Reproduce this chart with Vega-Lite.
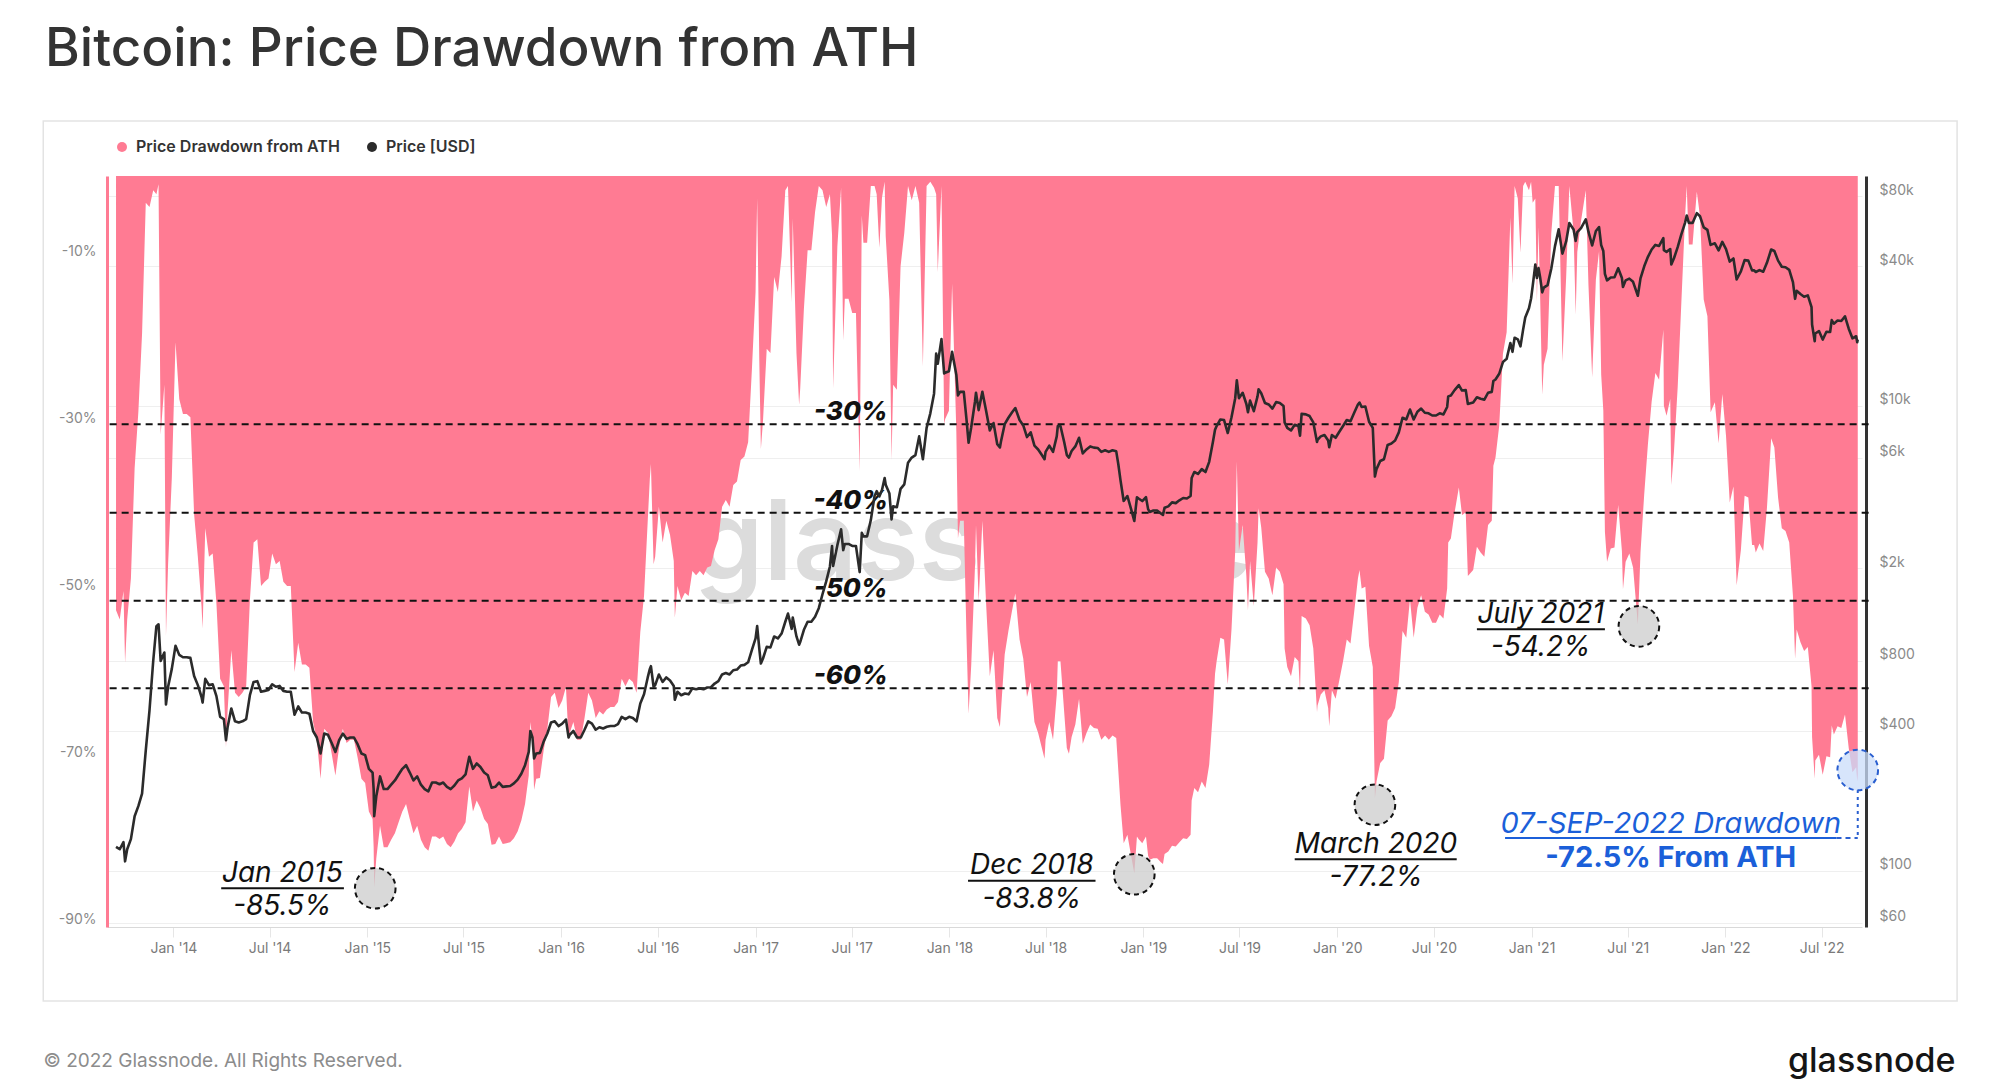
{
  "$schema": "https://vega.github.io/schema/vega-lite/v6.json",
  "width": 1755,
  "height": 751,
  "autosize": {"type": "none"},
  "padding": {"left": 107, "top": 176, "right": 138, "bottom": 165},
  "background": "white",
  "config": {
    "view": {"stroke": null},
    "font": "Inter",
    "axis": {"labelFont": "Inter", "titleFont": "Inter"},
    "text": {"font": "Inter"}
  },
  "title": {
    "text": "Bitcoin: Price Drawdown from ATH",
    "anchor": "start",
    "frame": "group",
    "orient": "top",
    "font": "Inter",
    "fontSize": 53,
    "fontWeight": 500,
    "color": "#333333",
    "baseline": "alphabetic",
    "dx": -62,
    "dy": 52,
    "offset": 53
  },
  "datasets": {
    "btc": [
      {"t":"2013-09-15","v":-52.3,"p":127},{"t":"2013-09-22","v":-53.4,"p":124},{"t":"2013-09-29","v":-50.0,"p":133},{"t":"2013-10-02","v":-58.6,"p":110},
      {"t":"2013-10-06","v":-53.4,"p":124},{"t":"2013-10-13","v":-48.5,"p":137},{"t":"2013-10-20","v":-35.3,"p":172},{"t":"2013-10-27","v":-28.6,"p":190},
      {"t":"2013-11-03","v":-19.2,"p":215},{"t":"2013-11-10","v":-3.5,"p":330},{"t":"2013-11-17","v":-4.0,"p":490},{"t":"2013-11-24","v":-2.0,"p":800},
      {"t":"2013-11-30","v":-2.5,"p":1130},{"t":"2013-12-04","v":-1.3,"p":1150},{"t":"2013-12-08","v":-31.3,"p":800},{"t":"2013-12-15","v":-25.3,"p":870},
      {"t":"2013-12-18","v":-55.4,"p":520},{"t":"2013-12-22","v":-46.8,"p":620},{"t":"2013-12-29","v":-36.5,"p":740},
      {"t":"2014-01-05","v":-20.2,"p":930},{"t":"2014-01-12","v":-27.0,"p":850},{"t":"2014-01-19","v":-28.8,"p":830},{"t":"2014-01-26","v":-28.8,"p":830},
      {"t":"2014-02-02","v":-29.2,"p":825},{"t":"2014-02-09","v":-40.8,"p":690},{"t":"2014-02-16","v":-45.9,"p":630},{"t":"2014-02-23","v":-51.9,"p":560},
      {"t":"2014-02-25","v":-54.5,"p":530},{"t":"2014-03-02","v":-42.5,"p":670},{"t":"2014-03-09","v":-45.9,"p":630},{"t":"2014-03-16","v":-45.5,"p":635},
      {"t":"2014-03-23","v":-51.5,"p":565},{"t":"2014-03-30","v":-60.5,"p":460},{"t":"2014-04-06","v":-61.4,"p":450},{"t":"2014-04-10","v":-68.7,"p":365},
      {"t":"2014-04-13","v":-64.4,"p":415},{"t":"2014-04-20","v":-57.1,"p":500},{"t":"2014-04-27","v":-62.2,"p":440},{"t":"2014-05-04","v":-62.7,"p":435},
      {"t":"2014-05-11","v":-62.2,"p":440},{"t":"2014-05-18","v":-61.4,"p":450},{"t":"2014-05-25","v":-51.1,"p":570},{"t":"2014-06-01","v":-44.2,"p":650},
      {"t":"2014-06-08","v":-43.8,"p":655},{"t":"2014-06-15","v":-49.4,"p":590},{"t":"2014-06-22","v":-48.9,"p":595},{"t":"2014-06-29","v":-48.5,"p":600},
      {"t":"2014-07-06","v":-45.5,"p":635},{"t":"2014-07-13","v":-46.8,"p":620},{"t":"2014-07-20","v":-46.4,"p":625},{"t":"2014-07-27","v":-48.9,"p":595},
      {"t":"2014-08-03","v":-49.4,"p":590},{"t":"2014-08-10","v":-49.4,"p":590},{"t":"2014-08-17","v":-59.7,"p":470},{"t":"2014-08-24","v":-56.2,"p":510},
      {"t":"2014-08-31","v":-58.8,"p":480},{"t":"2014-09-07","v":-58.8,"p":480},{"t":"2014-09-14","v":-59.2,"p":475},{"t":"2014-09-21","v":-65.7,"p":400},
      {"t":"2014-09-28","v":-67.8,"p":375},{"t":"2014-10-05","v":-72.5,"p":320},{"t":"2014-10-12","v":-66.5,"p":390},{"t":"2014-10-19","v":-67.0,"p":385},
      {"t":"2014-10-26","v":-69.5,"p":355},{"t":"2014-11-02","v":-72.1,"p":325},{"t":"2014-11-09","v":-68.7,"p":365},{"t":"2014-11-16","v":-66.5,"p":390},
      {"t":"2014-11-23","v":-68.2,"p":370},{"t":"2014-11-30","v":-67.8,"p":375},{"t":"2014-12-07","v":-67.8,"p":375},{"t":"2014-12-14","v":-70.0,"p":350},
      {"t":"2014-12-21","v":-72.5,"p":320},{"t":"2014-12-28","v":-73.0,"p":315},
      {"t":"2015-01-04","v":-76.4,"p":275},{"t":"2015-01-11","v":-77.3,"p":265},{"t":"2015-01-13","v":-80.7,"p":225},{"t":"2015-01-14","v":-85.5,"p":172},
      {"t":"2015-01-18","v":-82.0,"p":210},{"t":"2015-01-25","v":-78.1,"p":255},{"t":"2015-02-01","v":-80.7,"p":225},{"t":"2015-02-08","v":-80.7,"p":225},
      {"t":"2015-02-15","v":-79.8,"p":235},{"t":"2015-02-22","v":-79.0,"p":245},{"t":"2015-03-01","v":-77.7,"p":260},{"t":"2015-03-08","v":-76.4,"p":275},
      {"t":"2015-03-15","v":-75.5,"p":285},{"t":"2015-03-22","v":-77.3,"p":265},{"t":"2015-03-29","v":-79.0,"p":245},{"t":"2015-04-05","v":-78.1,"p":255},
      {"t":"2015-04-12","v":-79.8,"p":235},{"t":"2015-04-19","v":-80.7,"p":225},{"t":"2015-04-26","v":-81.1,"p":220},{"t":"2015-05-03","v":-79.4,"p":240},
      {"t":"2015-05-10","v":-79.4,"p":240},{"t":"2015-05-17","v":-79.7,"p":236},{"t":"2015-05-24","v":-79.4,"p":240},{"t":"2015-05-31","v":-80.3,"p":230},
      {"t":"2015-06-07","v":-80.7,"p":225},{"t":"2015-06-14","v":-80.0,"p":233},{"t":"2015-06-21","v":-79.0,"p":245},{"t":"2015-06-28","v":-78.5,"p":250},
      {"t":"2015-07-05","v":-77.7,"p":260},{"t":"2015-07-12","v":-73.4,"p":310},{"t":"2015-07-19","v":-76.4,"p":275},{"t":"2015-07-26","v":-75.1,"p":290},
      {"t":"2015-08-02","v":-76.0,"p":280},{"t":"2015-08-09","v":-77.3,"p":265},{"t":"2015-08-16","v":-77.9,"p":258},{"t":"2015-08-23","v":-80.4,"p":228},
      {"t":"2015-08-30","v":-80.3,"p":230},{"t":"2015-09-06","v":-79.4,"p":240},{"t":"2015-09-13","v":-80.3,"p":230},{"t":"2015-09-20","v":-80.2,"p":231},
      {"t":"2015-09-27","v":-80.1,"p":232},{"t":"2015-10-04","v":-79.6,"p":238},{"t":"2015-10-11","v":-78.8,"p":247},{"t":"2015-10-18","v":-77.5,"p":262},
      {"t":"2015-10-25","v":-75.5,"p":285},{"t":"2015-11-01","v":-72.1,"p":325},{"t":"2015-11-04","v":-65.7,"p":400},{"t":"2015-11-08","v":-67.8,"p":375},
      {"t":"2015-11-11","v":-73.8,"p":305},{"t":"2015-11-15","v":-72.5,"p":320},{"t":"2015-11-22","v":-72.4,"p":322},{"t":"2015-11-29","v":-69.1,"p":360},
      {"t":"2015-12-06","v":-66.5,"p":390},{"t":"2015-12-13","v":-62.7,"p":435},{"t":"2015-12-20","v":-62.2,"p":440},{"t":"2015-12-27","v":-64.0,"p":420},
      {"t":"2016-01-03","v":-63.1,"p":430},{"t":"2016-01-10","v":-61.5,"p":448},{"t":"2016-01-15","v":-67.8,"p":375},{"t":"2016-01-17","v":-67.0,"p":385},
      {"t":"2016-01-24","v":-65.7,"p":400},{"t":"2016-01-31","v":-67.8,"p":375},{"t":"2016-02-07","v":-67.8,"p":375},{"t":"2016-02-14","v":-65.2,"p":405},
      {"t":"2016-02-21","v":-62.2,"p":440},{"t":"2016-02-28","v":-63.1,"p":430},{"t":"2016-03-06","v":-65.2,"p":405},{"t":"2016-03-13","v":-64.4,"p":415},
      {"t":"2016-03-20","v":-64.8,"p":410},{"t":"2016-03-27","v":-64.2,"p":417},{"t":"2016-04-03","v":-63.9,"p":420},{"t":"2016-04-10","v":-63.9,"p":420},
      {"t":"2016-04-17","v":-63.3,"p":428},{"t":"2016-04-24","v":-60.5,"p":460},{"t":"2016-05-01","v":-61.4,"p":450},{"t":"2016-05-08","v":-60.5,"p":460},
      {"t":"2016-05-15","v":-60.9,"p":455},{"t":"2016-05-22","v":-62.2,"p":440},{"t":"2016-05-29","v":-54.9,"p":525},{"t":"2016-06-05","v":-50.6,"p":575},
      {"t":"2016-06-12","v":-41.6,"p":680},{"t":"2016-06-16","v":-36.5,"p":740},{"t":"2016-06-18","v":-34.8,"p":760},{"t":"2016-06-23","v":-46.8,"p":620},
      {"t":"2016-06-26","v":-45.9,"p":630},{"t":"2016-07-03","v":-39.9,"p":700},{"t":"2016-07-10","v":-44.2,"p":650},{"t":"2016-07-17","v":-41.6,"p":680},
      {"t":"2016-07-24","v":-43.3,"p":660},{"t":"2016-07-31","v":-46.4,"p":625},{"t":"2016-08-02","v":-53.2,"p":545},{"t":"2016-08-07","v":-49.4,"p":590},
      {"t":"2016-08-14","v":-51.1,"p":570},{"t":"2016-08-21","v":-50.2,"p":580},{"t":"2016-08-28","v":-50.6,"p":575},{"t":"2016-09-04","v":-47.6,"p":610},
      {"t":"2016-09-11","v":-48.1,"p":605},{"t":"2016-09-18","v":-47.6,"p":610},{"t":"2016-09-25","v":-48.1,"p":605},{"t":"2016-10-02","v":-47.2,"p":615},
      {"t":"2016-10-09","v":-47.0,"p":617},{"t":"2016-10-16","v":-45.1,"p":640},{"t":"2016-10-23","v":-43.8,"p":655},{"t":"2016-10-30","v":-39.9,"p":700},
      {"t":"2016-11-06","v":-39.1,"p":710},{"t":"2016-11-13","v":-39.9,"p":700},{"t":"2016-11-20","v":-37.3,"p":730},{"t":"2016-11-27","v":-36.9,"p":735},
      {"t":"2016-12-04","v":-34.3,"p":765},{"t":"2016-12-11","v":-33.9,"p":770},{"t":"2016-12-18","v":-32.2,"p":790},{"t":"2016-12-25","v":-23.6,"p":890},
      {"t":"2017-01-01","v":-14.2,"p":1000},{"t":"2017-01-04","v":-3.0,"p":1130},{"t":"2017-01-08","v":-22.3,"p":905},{"t":"2017-01-11","v":-33.0,"p":780},
      {"t":"2017-01-15","v":-29.6,"p":820},{"t":"2017-01-22","v":-21.0,"p":920},{"t":"2017-01-29","v":-21.5,"p":915},{"t":"2017-02-05","v":-12.4,"p":1020},
      {"t":"2017-02-12","v":-14.2,"p":1000},{"t":"2017-02-19","v":-9.9,"p":1050},{"t":"2017-02-26","v":-2.0,"p":1180},{"t":"2017-03-03","v":-1.5,"p":1280},
      {"t":"2017-03-10","v":-15.4,"p":1100},{"t":"2017-03-12","v":-5.4,"p":1230},{"t":"2017-03-19","v":-21.5,"p":1020},{"t":"2017-03-24","v":-27.7,"p":940},
      {"t":"2017-03-26","v":-25.8,"p":965},{"t":"2017-04-02","v":-16.2,"p":1090},{"t":"2017-04-09","v":-9.2,"p":1180},{"t":"2017-04-16","v":-9.2,"p":1180},
      {"t":"2017-04-23","v":-4.6,"p":1240},{"t":"2017-04-30","v":-1.5,"p":1350},{"t":"2017-05-07","v":-2.0,"p":1550},{"t":"2017-05-14","v":-4.0,"p":1760},
      {"t":"2017-05-21","v":-2.5,"p":2040},{"t":"2017-05-25","v":-7.4,"p":2500},{"t":"2017-05-27","v":-25.7,"p":2050},{"t":"2017-06-04","v":-8.7,"p":2520},
      {"t":"2017-06-11","v":-1.7,"p":2950},{"t":"2017-06-15","v":-20.0,"p":2400},{"t":"2017-06-18","v":-15.0,"p":2550},{"t":"2017-06-25","v":-15.0,"p":2550},
      {"t":"2017-07-02","v":-16.7,"p":2500},{"t":"2017-07-09","v":-16.7,"p":2500},{"t":"2017-07-16","v":-35.7,"p":1930},{"t":"2017-07-20","v":-5.0,"p":2850},
      {"t":"2017-07-23","v":-8.3,"p":2750},{"t":"2017-07-30","v":-8.3,"p":2750},{"t":"2017-08-06","v":-1.5,"p":3230},{"t":"2017-08-13","v":-1.5,"p":4100},
      {"t":"2017-08-17","v":-2.5,"p":4300},{"t":"2017-08-22","v":-8.9,"p":4080},{"t":"2017-08-27","v":-2.9,"p":4350},{"t":"2017-09-01","v":-1.0,"p":4900},
      {"t":"2017-09-03","v":-7.5,"p":4580},{"t":"2017-09-10","v":-15.2,"p":4200},{"t":"2017-09-14","v":-34.3,"p":3250},{"t":"2017-09-17","v":-25.3,"p":3700},
      {"t":"2017-09-24","v":-25.9,"p":3670},{"t":"2017-10-01","v":-11.1,"p":4400},{"t":"2017-10-08","v":-7.1,"p":4600},{"t":"2017-10-15","v":-1.5,"p":5700},
      {"t":"2017-10-22","v":-3.2,"p":6000},{"t":"2017-10-29","v":-1.5,"p":6150},{"t":"2017-11-05","v":-3.5,"p":7400},{"t":"2017-11-12","v":-23.1,"p":5900},
      {"t":"2017-11-19","v":-1.5,"p":8050},{"t":"2017-11-26","v":-1.0,"p":9300},{"t":"2017-12-03","v":-1.7,"p":11300},{"t":"2017-12-07","v":-2.5,"p":16800},
      {"t":"2017-12-10","v":-11.8,"p":15200},{"t":"2017-12-17","v":-1.5,"p":19400},{"t":"2017-12-22","v":-30.0,"p":13800},{"t":"2017-12-24","v":-29.4,"p":13900},
      {"t":"2017-12-31","v":-28.4,"p":14100},
      {"t":"2018-01-06","v":-13.2,"p":17100},{"t":"2018-01-14","v":-31.0,"p":13600},{"t":"2018-01-17","v":-43.7,"p":11100},{"t":"2018-01-21","v":-41.6,"p":11500},
      {"t":"2018-01-28","v":-41.6,"p":11500},{"t":"2018-02-02","v":-55.3,"p":8800},{"t":"2018-02-06","v":-64.7,"p":6950},{"t":"2018-02-11","v":-58.9,"p":8100},
      {"t":"2018-02-18","v":-47.2,"p":10400},{"t":"2018-02-20","v":-42.1,"p":11400},{"t":"2018-02-25","v":-51.3,"p":9600},{"t":"2018-03-04","v":-41.6,"p":11500},
      {"t":"2018-03-11","v":-51.5,"p":9550},{"t":"2018-03-18","v":-60.2,"p":7850},{"t":"2018-03-25","v":-57.1,"p":8450},{"t":"2018-04-01","v":-65.2,"p":6850},
      {"t":"2018-04-06","v":-66.3,"p":6630},{"t":"2018-04-08","v":-64.3,"p":7030},{"t":"2018-04-15","v":-57.6,"p":8350},{"t":"2018-04-22","v":-54.8,"p":8900},
      {"t":"2018-04-29","v":-52.3,"p":9400},{"t":"2018-05-05","v":-50.3,"p":9800},{"t":"2018-05-13","v":-55.8,"p":8700},{"t":"2018-05-20","v":-58.1,"p":8250},
      {"t":"2018-05-27","v":-62.7,"p":7350},{"t":"2018-06-03","v":-60.9,"p":7700},{"t":"2018-06-10","v":-65.7,"p":6750},{"t":"2018-06-17","v":-67.0,"p":6500},
      {"t":"2018-06-24","v":-68.8,"p":6150},{"t":"2018-06-29","v":-70.1,"p":5900},{"t":"2018-07-01","v":-67.8,"p":6350},{"t":"2018-07-08","v":-65.7,"p":6750},
      {"t":"2018-07-15","v":-67.8,"p":6350},{"t":"2018-07-22","v":-62.4,"p":7400},{"t":"2018-07-24","v":-58.4,"p":8200},{"t":"2018-07-29","v":-58.4,"p":8200},
      {"t":"2018-08-05","v":-64.5,"p":7000},{"t":"2018-08-10","v":-68.8,"p":6150},{"t":"2018-08-14","v":-69.5,"p":6000},{"t":"2018-08-19","v":-67.5,"p":6400},
      {"t":"2018-08-26","v":-66.0,"p":6700},{"t":"2018-09-02","v":-62.9,"p":7300},{"t":"2018-09-09","v":-68.3,"p":6250},{"t":"2018-09-16","v":-67.0,"p":6500},
      {"t":"2018-09-23","v":-66.0,"p":6700},{"t":"2018-09-30","v":-66.4,"p":6620},{"t":"2018-10-07","v":-66.5,"p":6600},{"t":"2018-10-14","v":-67.8,"p":6350},
      {"t":"2018-10-21","v":-67.3,"p":6450},{"t":"2018-10-28","v":-67.8,"p":6350},{"t":"2018-11-04","v":-67.3,"p":6450},{"t":"2018-11-11","v":-67.6,"p":6380},
      {"t":"2018-11-15","v":-71.6,"p":5600},{"t":"2018-11-19","v":-75.6,"p":4800},{"t":"2018-11-25","v":-80.2,"p":3900},{"t":"2018-12-02","v":-79.2,"p":4100},
      {"t":"2018-12-09","v":-81.7,"p":3600},{"t":"2018-12-15","v":-83.8,"p":3200},{"t":"2018-12-20","v":-79.4,"p":4050},{"t":"2018-12-23","v":-79.7,"p":4000},
      {"t":"2018-12-30","v":-80.2,"p":3900},
      {"t":"2019-01-06","v":-79.4,"p":4050},{"t":"2019-01-10","v":-81.7,"p":3600},{"t":"2019-01-13","v":-82.2,"p":3500},{"t":"2019-01-20","v":-82.0,"p":3550},
      {"t":"2019-01-27","v":-82.0,"p":3550},{"t":"2019-02-03","v":-82.5,"p":3450},{"t":"2019-02-07","v":-82.7,"p":3400},{"t":"2019-02-10","v":-81.5,"p":3650},
      {"t":"2019-02-17","v":-81.2,"p":3700},{"t":"2019-02-24","v":-80.5,"p":3850},{"t":"2019-03-03","v":-80.6,"p":3820},{"t":"2019-03-10","v":-80.1,"p":3930},
      {"t":"2019-03-17","v":-79.6,"p":4020},{"t":"2019-03-24","v":-79.7,"p":4000},{"t":"2019-03-31","v":-79.2,"p":4100},{"t":"2019-04-02","v":-75.1,"p":4900},
      {"t":"2019-04-07","v":-73.6,"p":5200},{"t":"2019-04-14","v":-74.1,"p":5100},{"t":"2019-04-21","v":-72.8,"p":5350},{"t":"2019-04-28","v":-73.6,"p":5200},
      {"t":"2019-05-05","v":-70.8,"p":5750},{"t":"2019-05-12","v":-64.5,"p":7000},{"t":"2019-05-16","v":-59.9,"p":7900},{"t":"2019-05-19","v":-58.4,"p":8200},
      {"t":"2019-05-26","v":-55.6,"p":8750},{"t":"2019-06-02","v":-55.8,"p":8700},{"t":"2019-06-09","v":-61.2,"p":7650},{"t":"2019-06-16","v":-54.6,"p":8950},
      {"t":"2019-06-23","v":-45.2,"p":10800},{"t":"2019-06-26","v":-34.5,"p":12900},{"t":"2019-06-30","v":-45.2,"p":10800},{"t":"2019-07-07","v":-42.1,"p":11400},
      {"t":"2019-07-14","v":-48.2,"p":10200},{"t":"2019-07-17","v":-52.3,"p":9400},{"t":"2019-07-21","v":-46.4,"p":10550},{"t":"2019-07-28","v":-51.8,"p":9500},
      {"t":"2019-08-04","v":-44.2,"p":11000},{"t":"2019-08-06","v":-40.1,"p":11800},{"t":"2019-08-11","v":-42.4,"p":11350},{"t":"2019-08-18","v":-47.7,"p":10300},
      {"t":"2019-08-25","v":-48.5,"p":10150},{"t":"2019-09-01","v":-50.5,"p":9750},{"t":"2019-09-08","v":-47.2,"p":10400},{"t":"2019-09-15","v":-47.7,"p":10300},
      {"t":"2019-09-22","v":-49.2,"p":10000},{"t":"2019-09-24","v":-56.9,"p":8500},{"t":"2019-09-29","v":-59.1,"p":8050},{"t":"2019-10-06","v":-60.2,"p":7850},
      {"t":"2019-10-13","v":-57.9,"p":8300},{"t":"2019-10-20","v":-58.4,"p":8200},{"t":"2019-10-23","v":-62.2,"p":7450},{"t":"2019-10-26","v":-53.0,"p":9250},
      {"t":"2019-11-03","v":-53.3,"p":9200},{"t":"2019-11-10","v":-54.1,"p":9050},{"t":"2019-11-17","v":-56.9,"p":8500},{"t":"2019-11-24","v":-64.5,"p":7000},
      {"t":"2019-11-25","v":-63.7,"p":7150},{"t":"2019-12-01","v":-62.4,"p":7400},{"t":"2019-12-08","v":-61.9,"p":7500},{"t":"2019-12-15","v":-64.0,"p":7100},
      {"t":"2019-12-17","v":-66.2,"p":6650},{"t":"2019-12-22","v":-61.9,"p":7500},{"t":"2019-12-29","v":-62.9,"p":7300},
      {"t":"2020-01-05","v":-60.7,"p":7750},{"t":"2020-01-12","v":-58.4,"p":8200},{"t":"2020-01-19","v":-55.8,"p":8700},{"t":"2020-01-26","v":-56.3,"p":8600},
      {"t":"2020-02-02","v":-52.5,"p":9350},{"t":"2020-02-09","v":-48.5,"p":10150},{"t":"2020-02-12","v":-47.5,"p":10350},{"t":"2020-02-16","v":-49.7,"p":9900},
      {"t":"2020-02-23","v":-49.5,"p":9950},{"t":"2020-03-01","v":-56.6,"p":8550},{"t":"2020-03-08","v":-59.1,"p":8050},{"t":"2020-03-12","v":-74.8,"p":4970},
      {"t":"2020-03-15","v":-72.8,"p":5350},{"t":"2020-03-22","v":-70.6,"p":5800},{"t":"2020-03-29","v":-70.1,"p":5900},{"t":"2020-04-05","v":-65.5,"p":6800},
      {"t":"2020-04-12","v":-65.0,"p":6900},{"t":"2020-04-19","v":-64.0,"p":7100},{"t":"2020-04-26","v":-60.9,"p":7700},{"t":"2020-05-03","v":-54.8,"p":8900},
      {"t":"2020-05-10","v":-55.6,"p":8750},{"t":"2020-05-17","v":-51.0,"p":9650},{"t":"2020-05-24","v":-55.6,"p":8750},{"t":"2020-05-31","v":-52.0,"p":9450},
      {"t":"2020-06-07","v":-50.5,"p":9750},{"t":"2020-06-14","v":-52.5,"p":9350},{"t":"2020-06-21","v":-52.8,"p":9300},{"t":"2020-06-28","v":-53.8,"p":9100},
      {"t":"2020-07-05","v":-53.8,"p":9100},{"t":"2020-07-12","v":-52.8,"p":9300},{"t":"2020-07-19","v":-53.3,"p":9200},{"t":"2020-07-26","v":-49.7,"p":9900},
      {"t":"2020-07-28","v":-44.2,"p":11000},{"t":"2020-08-02","v":-43.7,"p":11100},{"t":"2020-08-09","v":-40.6,"p":11700},{"t":"2020-08-17","v":-37.6,"p":12300},
      {"t":"2020-08-23","v":-40.9,"p":11650},{"t":"2020-08-30","v":-40.6,"p":11700},{"t":"2020-09-03","v":-48.2,"p":10200},{"t":"2020-09-06","v":-48.0,"p":10250},
      {"t":"2020-09-13","v":-47.5,"p":10350},{"t":"2020-09-20","v":-44.7,"p":10900},{"t":"2020-09-27","v":-45.4,"p":10750},{"t":"2020-10-04","v":-45.9,"p":10650},
      {"t":"2020-10-11","v":-42.1,"p":11400},{"t":"2020-10-18","v":-41.6,"p":11500},{"t":"2020-10-21","v":-35.0,"p":12800},{"t":"2020-10-25","v":-34.0,"p":13000},
      {"t":"2020-11-01","v":-30.2,"p":13750},{"t":"2020-11-08","v":-21.6,"p":15450},{"t":"2020-11-15","v":-19.0,"p":15950},{"t":"2020-11-22","v":-5.3,"p":18650},
      {"t":"2020-11-26","v":-13.2,"p":17100},{"t":"2020-11-30","v":-1.5,"p":19650},{"t":"2020-12-06","v":-3.0,"p":19350},{"t":"2020-12-11","v":-9.5,"p":18050},
      {"t":"2020-12-16","v":-1.5,"p":21300},{"t":"2020-12-20","v":-1.0,"p":24000},{"t":"2020-12-27","v":-2.0,"p":26300},{"t":"2020-12-31","v":-1.0,"p":29000},
      {"t":"2021-01-03","v":-3.5,"p":32800},{"t":"2021-01-08","v":-3.0,"p":40600},{"t":"2021-01-11","v":-15.3,"p":35500},{"t":"2021-01-14","v":-6.4,"p":39200},
      {"t":"2021-01-17","v":-14.6,"p":35800},{"t":"2021-01-21","v":-26.5,"p":30800},{"t":"2021-01-24","v":-22.9,"p":32300},{"t":"2021-01-31","v":-21.0,"p":33100},
      {"t":"2021-02-07","v":-7.2,"p":38900},{"t":"2021-02-14","v":-1.5,"p":48700},{"t":"2021-02-21","v":-1.5,"p":57500},{"t":"2021-02-28","v":-22.5,"p":45200},
      {"t":"2021-03-07","v":-12.5,"p":51000},{"t":"2021-03-13","v":-1.5,"p":61200},{"t":"2021-03-21","v":-7.0,"p":57400},{"t":"2021-03-25","v":-16.9,"p":51300},
      {"t":"2021-03-28","v":-9.4,"p":55900},{"t":"2021-04-04","v":-5.7,"p":58200},{"t":"2021-04-13","v":-2.0,"p":63500},{"t":"2021-04-18","v":-13.3,"p":56200},
      {"t":"2021-04-25","v":-24.4,"p":49000},{"t":"2021-05-02","v":-12.7,"p":56600},{"t":"2021-05-08","v":-9.3,"p":58800},{"t":"2021-05-12","v":-24.1,"p":49200},
      {"t":"2021-05-16","v":-28.4,"p":46400},{"t":"2021-05-19","v":-42.9,"p":37000},{"t":"2021-05-23","v":-46.5,"p":34700},{"t":"2021-05-30","v":-44.9,"p":35700},
      {"t":"2021-06-06","v":-44.8,"p":35800},{"t":"2021-06-13","v":-39.7,"p":39100},{"t":"2021-06-20","v":-45.2,"p":35500},{"t":"2021-06-22","v":-49.8,"p":32500},
      {"t":"2021-06-27","v":-46.5,"p":34700},{"t":"2021-07-04","v":-45.5,"p":35300},{"t":"2021-07-11","v":-47.2,"p":34200},{"t":"2021-07-20","v":-54.0,"p":29800},
      {"t":"2021-07-25","v":-45.4,"p":35400},{"t":"2021-08-01","v":-38.4,"p":39900},{"t":"2021-08-08","v":-32.4,"p":43800},{"t":"2021-08-15","v":-27.3,"p":47100},
      {"t":"2021-08-22","v":-23.9,"p":49300},{"t":"2021-08-29","v":-24.7,"p":48800},{"t":"2021-09-06","v":-18.7,"p":52700},{"t":"2021-09-07","v":-27.8,"p":46800},
      {"t":"2021-09-12","v":-29.0,"p":46000},{"t":"2021-09-19","v":-27.0,"p":47300},{"t":"2021-09-21","v":-37.3,"p":40600},{"t":"2021-09-26","v":-33.3,"p":43200},
      {"t":"2021-10-03","v":-25.6,"p":48200},{"t":"2021-10-10","v":-15.3,"p":54900},{"t":"2021-10-17","v":-5.1,"p":61500},{"t":"2021-10-20","v":-1.5,"p":66000},
      {"t":"2021-10-24","v":-8.5,"p":61300},{"t":"2021-10-31","v":-8.5,"p":61300},{"t":"2021-11-08","v":-2.2,"p":67500},{"t":"2021-11-14","v":-5.1,"p":65500},
      {"t":"2021-11-21","v":-15.1,"p":58600},{"t":"2021-11-28","v":-17.1,"p":57200},{"t":"2021-12-04","v":-28.6,"p":49300},{"t":"2021-12-12","v":-27.4,"p":50100},
      {"t":"2021-12-19","v":-32.3,"p":46700},{"t":"2021-12-26","v":-26.4,"p":50800},
      {"t":"2022-01-02","v":-31.4,"p":47300},{"t":"2022-01-09","v":-39.4,"p":41800},{"t":"2022-01-16","v":-37.5,"p":43100},{"t":"2022-01-22","v":-49.3,"p":35000},
      {"t":"2022-01-30","v":-45.1,"p":37900},{"t":"2022-02-06","v":-38.6,"p":42400},{"t":"2022-02-13","v":-38.8,"p":42200},{"t":"2022-02-20","v":-44.5,"p":38300},
      {"t":"2022-02-24","v":-44.5,"p":38300},{"t":"2022-02-27","v":-45.4,"p":37700},{"t":"2022-03-06","v":-44.3,"p":38400},{"t":"2022-03-13","v":-45.2,"p":37800},
      {"t":"2022-03-20","v":-40.1,"p":41300},{"t":"2022-03-28","v":-31.7,"p":47100},{"t":"2022-04-03","v":-32.8,"p":46400},{"t":"2022-04-10","v":-38.8,"p":42200},
      {"t":"2022-04-17","v":-42.5,"p":39700},{"t":"2022-04-24","v":-42.8,"p":39500},{"t":"2022-05-01","v":-44.2,"p":38500},{"t":"2022-05-08","v":-50.6,"p":34100},
      {"t":"2022-05-12","v":-58.1,"p":28900},{"t":"2022-05-15","v":-54.6,"p":31300},{"t":"2022-05-22","v":-56.1,"p":30300},{"t":"2022-05-29","v":-57.2,"p":29500},
      {"t":"2022-06-05","v":-56.7,"p":29900},{"t":"2022-06-12","v":-61.4,"p":26600},{"t":"2022-06-13","v":-67.5,"p":22400},{"t":"2022-06-18","v":-72.5,"p":19000},
      {"t":"2022-06-19","v":-70.3,"p":20500},{"t":"2022-06-26","v":-69.6,"p":21000},{"t":"2022-07-03","v":-72.0,"p":19300},{"t":"2022-07-10","v":-69.8,"p":20850},
      {"t":"2022-07-17","v":-69.9,"p":20800},{"t":"2022-07-20","v":-66.1,"p":23400},{"t":"2022-07-24","v":-67.2,"p":22600},{"t":"2022-07-31","v":-66.2,"p":23300},
      {"t":"2022-08-07","v":-66.4,"p":23200},{"t":"2022-08-14","v":-64.8,"p":24300},{"t":"2022-08-21","v":-68.8,"p":21500},{"t":"2022-08-28","v":-71.7,"p":19550},
      {"t":"2022-09-04","v":-71.1,"p":19950},{"t":"2022-09-06","v":-72.8,"p":18800},{"t":"2022-09-07","v":-72.0,"p":19300}
    ],
    "frame": [{"t": "2013-05-01", "t2": "2023-03-13", "v": 6.29, "v2": -99.1}],
    "mark": [{"t": "2018-02-15", "v": -48.68, "label": "glassnode"}],
    "levels": [
      {"t": "2013-09-03", "t2": "2022-10-02", "v": -30.04},
      {"t": "2013-09-03", "t2": "2022-10-02", "v": -40.62},
      {"t": "2013-09-03", "t2": "2022-10-02", "v": -51.16},
      {"t": "2013-09-03", "t2": "2022-10-02", "v": -61.65}
    ],
    "levelnames": [
      {"t": "2017-06-29", "v": -30.04, "label": "-30%"},
      {"t": "2017-06-29", "v": -40.62, "label": "-40%"},
      {"t": "2017-06-29", "v": -51.16, "label": "-50%"},
      {"t": "2017-06-29", "v": -61.65, "label": "-60%"}
    ],
    "notes": [
      {"t": "2014-07-25", "v": -84.81, "label": "Jan 2015"},
      {"t": "2014-07-25", "v": -88.8, "label": "-85.5%"},
      {"t": "2018-06-05", "v": -83.89, "label": "Dec 2018"},
      {"t": "2018-06-05", "v": -88.0, "label": "-83.8%"},
      {"t": "2020-03-14", "v": -81.41, "label": "March 2020"},
      {"t": "2020-03-14", "v": -85.33, "label": "-77.2%"},
      {"t": "2021-01-18", "v": -53.8, "label": "July 2021"},
      {"t": "2021-01-18", "v": -57.78, "label": "-54.2%"}
    ],
    "under": [
      {"t": "2014-04-01", "t2": "2014-11-18", "v": -85.6},
      {"t": "2018-02-05", "t2": "2018-10-03", "v": -84.69},
      {"t": "2019-10-13", "t2": "2020-08-13", "v": -82.13},
      {"t": "2020-09-20", "t2": "2021-05-19", "v": -54.59}
    ],
    "bottoms": [
      {"t": "2015-01-16", "v": -85.6},
      {"t": "2018-12-15", "v": -83.93},
      {"t": "2020-03-12", "v": -75.6},
      {"t": "2021-07-22", "v": -54.23}
    ],
    "latest": [{"t": "2022-09-07", "v": -71.44}],
    "bluetitle": [{"t": "2021-09-20", "v": -78.98, "label": "07-SEP-2022 Drawdown"}],
    "bluevalue": [{"t": "2021-09-20", "v": -83.05, "label": "-72.5% From ATH"}],
    "blueline": [{"t": "2020-11-12", "t2": "2022-07-29", "v": -79.58}],
    "bluedash": [{"t": "2022-07-29", "t2": "2022-09-07", "v": -79.58}],
    "bluedrop": [{"t": "2022-09-07", "v": -73.83, "v2": -79.58}]
  },
  "layer": [
    {
      "encoding": {
        "x": {
          "field": "t", "type": "temporal",
          "scale": {"domain": [{"year": 2013, "month": 8, "date": 29, "utc": true}, {"year": 2022, "month": 9, "date": 15, "utc": true}]},
          "axis": {
            "orient": "bottom", "tickCount": {"interval": "month", "step": 6}, "format": "%b '%y",
            "labelColor": "#7a7a7a", "labelFontSize": 14, "labelFlush": false, "labelOverlap": false, "labelPadding": 4,
            "domainColor": "#d9d9d9", "domainWidth": 1, "tickColor": "#e6e6e6", "tickSize": 10, "grid": false,
            "title": "© 2022 Glassnode. All Rights Reserved.", "titleX": -64, "titleY": 133, "titleAlign": "left",
            "titleBaseline": "middle", "titleFontSize": 19, "titleFontWeight": "normal", "titleColor": "#8c8c8c"
          }
        },
        "y": {
          "field": "v", "type": "quantitative",
          "scale": {"domain": [-90.24, -0.3], "nice": false, "zero": false},
          "axis": {
            "orient": "left", "values": [-10, -30, -50, -70, -90], "labelExpr": "datum.value + '%'",
            "labelColor": "#8a8a8a", "labelFontSize": 14, "labelPadding": 11, "labelOffset": -5,
            "ticks": false, "domainColor": "#FF7B93", "domainWidth": 3, "grid": false, "title": null
          }
        }
      },
      "layer": [
        {
          "data": {"name": "frame"},
          "mark": {"type": "rect", "fillOpacity": 0, "stroke": "#e3e3e3", "strokeWidth": 1.5, "clip": false},
          "encoding": {"x2": {"field": "t2"}, "y2": {"field": "v2"}}
        },
        {
          "data": {"name": "mark"},
          "mark": {"type": "text", "fontSize": 112, "fontWeight": 600, "color": "#dcdcdc", "align": "center", "baseline": "alphabetic"},
          "encoding": {"text": {"field": "label"}}
        },
        {
          "data": {"name": "btc"},
          "mark": {"type": "area", "clip": true},
          "encoding": {
            "y2": {"datum": 0},
            "color": {
              "datum": "Price Drawdown from ATH", "type": "nominal",
              "scale": {"domain": ["Price Drawdown from ATH", "Price [USD]"], "range": ["#FF7B93", "#2b2b2b"]},
              "legend": {
                "orient": "none", "legendX": 7, "legendY": -37, "direction": "horizontal", "title": null,
                "symbolType": "circle", "symbolSize": 100, "symbolStrokeWidth": 0, "symbolOpacity": 1,
                "labelFont": "Inter", "labelFontSize": 16, "labelFontWeight": 600, "labelColor": "#333333",
                "labelOffset": 6, "labelLimit": 400, "columnPadding": 24, "padding": 0
              }
            }
          }
        },
        {
          "data": {"name": "levels"},
          "mark": {"type": "rule", "color": "#111111", "strokeWidth": 2, "strokeDash": [7, 5]},
          "encoding": {"x2": {"field": "t2"}}
        },
        {
          "data": {"name": "levelnames"},
          "mark": {"type": "text", "fontSize": 26, "fontStyle": "italic", "fontWeight": 800, "color": "#111111", "align": "center", "baseline": "alphabetic", "dy": -4},
          "encoding": {"text": {"field": "label"}}
        },
        {
          "data": {"name": "under"},
          "mark": {"type": "rule", "color": "#111111", "strokeWidth": 2},
          "encoding": {"x2": {"field": "t2"}}
        },
        {
          "data": {"name": "notes"},
          "mark": {"type": "text", "fontSize": 28, "fontStyle": "italic", "fontWeight": 400, "color": "#111111", "align": "center", "baseline": "alphabetic"},
          "encoding": {"text": {"field": "label"}}
        },
        {
          "data": {"name": "bottoms"},
          "mark": {"type": "point", "shape": "circle", "size": 1650, "filled": true, "fill": "#cccccc", "fillOpacity": 0.75, "stroke": "#111111", "strokeWidth": 2, "strokeDash": [5, 4], "strokeOpacity": 1}
        },
        {
          "data": {"name": "bluedrop"},
          "mark": {"type": "rule", "color": "#2a5fd0", "strokeWidth": 2, "strokeDash": [3, 4]},
          "encoding": {"y2": {"field": "v2"}}
        },
        {
          "data": {"name": "bluedash"},
          "mark": {"type": "rule", "color": "#2a5fd0", "strokeWidth": 2, "strokeDash": [5, 4]},
          "encoding": {"x2": {"field": "t2"}}
        },
        {
          "data": {"name": "blueline"},
          "mark": {"type": "rule", "color": "#1b5fd9", "strokeWidth": 2},
          "encoding": {"x2": {"field": "t2"}}
        },
        {
          "data": {"name": "latest"},
          "mark": {"type": "point", "shape": "circle", "size": 1650, "filled": true, "fill": "#c9dcfa", "fillOpacity": 0.75, "stroke": "#2a5fd0", "strokeWidth": 2, "strokeDash": [5, 4], "strokeOpacity": 1}
        },
        {
          "data": {"name": "bluetitle"},
          "mark": {"type": "text", "fontSize": 29, "fontStyle": "italic", "fontWeight": 400, "color": "#1b5fd9", "align": "center", "baseline": "alphabetic"},
          "encoding": {"text": {"field": "label"}}
        },
        {
          "data": {"name": "bluevalue"},
          "mark": {"type": "text", "fontSize": 29, "fontWeight": 700, "color": "#1b5fd9", "align": "center", "baseline": "alphabetic"},
          "encoding": {"text": {"field": "label"}}
        }
      ]
    },
    {
      "data": {"name": "btc"},
      "mark": {"type": "line", "strokeWidth": 2.6, "strokeJoin": "round", "clip": true},
      "encoding": {
        "x": {
          "field": "t", "type": "temporal",
          "scale": {"domain": [{"year": 2013, "month": 8, "date": 29, "utc": true}, {"year": 2022, "month": 9, "date": 15, "utc": true}]},
          "axis": {
            "orient": "bottom", "tickCount": {"interval": "month", "step": 6}, "format": "%b '%y",
            "labelColor": "#7a7a7a", "labelFontSize": 14, "labelFlush": false, "labelOverlap": false, "labelPadding": 4,
            "domainColor": "#d9d9d9", "domainWidth": 1, "tickColor": "#e6e6e6", "tickSize": 10, "grid": false,
            "title": "© 2022 Glassnode. All Rights Reserved.", "titleX": -64, "titleY": 133, "titleAlign": "left",
            "titleBaseline": "middle", "titleFontSize": 19, "titleFontWeight": "normal", "titleColor": "#8c8c8c"
          }
        },
        "y": {
          "field": "p", "type": "quantitative",
          "scale": {"type": "log", "domain": [57.4, 97550], "nice": false},
          "axis": {
            "orient": "right", "values": [60, 100, 400, 800, 2000, 6000, 10000, 40000, 80000],
            "labelExpr": "datum.value >= 1000 ? '$' + format(datum.value / 1000, 'd') + 'k' : '$' + datum.value",
            "labelColor": "#8a8a8a", "labelFontSize": 14, "labelPadding": 13, "labelOffset": -6,
            "ticks": false, "offset": 4, "domainColor": "#333333", "domainWidth": 3,
            "grid": true, "gridColor": "#efefef", "gridWidth": 1,
            "title": "glassnode", "titleAngle": 0, "titleX": 89, "titleY": 885, "titleAlign": "right", "titleBaseline": "middle",
            "titleFontSize": 34, "titleFontWeight": 500, "titleColor": "#151515"
          }
        },
        "color": {"datum": "Price [USD]", "type": "nominal"}
      }
    }
  ],
  "resolve": {"scale": {"y": "independent"}}
}
